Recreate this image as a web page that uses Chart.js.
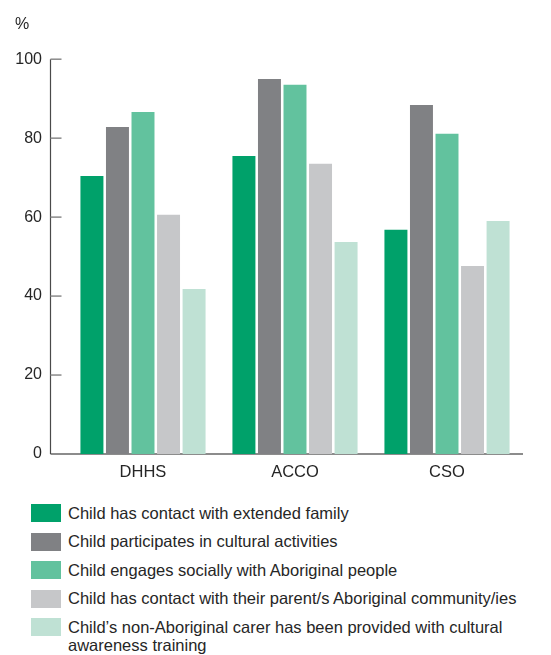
<!DOCTYPE html>
<html><head><meta charset="utf-8">
<script src="https://cdn.jsdelivr.net/npm/chart.js@4"></script>
<style>
html,body{margin:0;padding:0;background:#fff;}
#wrap{position:relative;width:551px;height:655px;font-family:"Liberation Sans",Arial,sans-serif;overflow:hidden;}
#cv{position:absolute;left:0;top:0;}
#legend{position:absolute;left:31px;top:504px;}
.item{display:flex;align-items:flex-start;height:28.6px;}
.box{width:30px;height:18px;flex:none;margin-right:7px;}
.txt{font-size:16.5px;line-height:18.5px;color:#262626;margin-top:-0.5px;white-space:nowrap;}
</style>
</head><body>
<div id="wrap">
<canvas id="cv" width="551" height="490"></canvas>
<div id="legend"></div>
</div>
<script>
const categories = ['DHHS', 'ACCO', 'CSO'];
const extendedFamily = [70.4, 75.5, 56.8];
const culturalActivities = [82.8, 95.0, 88.4];
const engagesSocially = [86.6, 93.5, 81.1];
const parentCommunity = [60.6, 73.5, 47.6];
const carerTraining = [41.8, 53.7, 59.0];
const seriesLabels = [
  ['Child has contact with extended family'],
  ['Child participates in cultural activities'],
  ['Child engages socially with Aboriginal people'],
  ['Child has contact with their parent/s Aboriginal community/ies'],
  ['Child\u2019s non-Aboriginal carer has been provided with cultural', 'awareness training']
];
const seriesColors = ['#00a16a', '#808184', '#62c29e', '#c6c7c9', '#bfe1d4'];
const yTickValues = [0, 20, 40, 60, 80, 100];
const unitLabel = '%';

const seriesValues = [extendedFamily, culturalActivities, engagesSocially, parentCommunity, carerTraining];
const FONT = '"Liberation Sans", Arial, sans-serif';
const TEXT = '#262626';

const axisDeco = {
  id: 'axisDeco',
  beforeDatasetsDraw(chart) {
    const {ctx, chartArea, scales: {y}} = chart;
    const ax = Math.round(chartArea.left - 17) + 0.5;
    const y0 = y.getPixelForValue(0);
    const yTop = y.getPixelForValue(100);
    ctx.save();
    ctx.strokeStyle = '#8c8c8c';
    ctx.lineWidth = 2;
    ctx.beginPath(); ctx.moveTo(ax, y0); ctx.lineTo(chartArea.right, y0); ctx.stroke();
    ctx.strokeStyle = '#4a4a4a';
    ctx.lineWidth = 1.2;
    ctx.beginPath(); ctx.moveTo(ax, yTop); ctx.lineTo(ax, y0); ctx.stroke();
    ctx.strokeStyle = '#8a8a8a';
    ctx.lineWidth = 1.5;
    y.ticks.forEach(t => {
      if (t.value === 0) return;
      const py = y.getPixelForValue(t.value);
      ctx.beginPath(); ctx.moveTo(ax, py); ctx.lineTo(ax + 11, py); ctx.stroke();
    });
    ctx.restore();
  }
};

const chart = new Chart(document.getElementById('cv'), {
  type: 'bar',
  data: {
    labels: categories,
    datasets: seriesValues.map((vals, i) => ({
      label: seriesLabels[i].join(' '),
      data: vals,
      backgroundColor: seriesColors[i],
      borderWidth: 0,
      barPercentage: 0.9,
      categoryPercentage: 0.84
    }))
  },
  options: {
    responsive: false,
    animation: false,
    layout: {padding: {left: 15, right: 28, top: 0, bottom: 8}},
    plugins: {
      legend: {display: false},
      tooltip: {enabled: false},
      title: {
        display: true, text: unitLabel, align: 'start', color: TEXT,
        font: {family: FONT, size: 16, weight: 'normal'},
        padding: {top: 15, bottom: 25}
      }
    },
    scales: {
      x: {
        grid: {display: false, drawTicks: false},
        border: {display: false},
        ticks: {font: {family: FONT, size: 16.5}, color: TEXT, padding: 9},
        afterFit(scale) { scale.height = 28; }
      },
      y: {
        min: 0, max: 100,
        afterBuildTicks(scale) { scale.ticks = yTickValues.map(v => ({value: v})); },
        grid: {display: false, drawTicks: false},
        border: {display: false},
        ticks: {font: {family: FONT, size: 16}, color: TEXT, padding: 25},
        afterFit(scale) { scale.width = 52; }
      }
    }
  },
  plugins: [axisDeco]
});

const legend = document.getElementById('legend');
seriesLabels.forEach((lines, i) => {
  const item = document.createElement('div');
  item.className = 'item';
  const box = document.createElement('div');
  box.className = 'box';
  box.style.background = seriesColors[i];
  const txt = document.createElement('div');
  txt.className = 'txt';
  lines.forEach((l, j) => {
    if (j) txt.appendChild(document.createElement('br'));
    txt.appendChild(document.createTextNode(l));
  });
  item.appendChild(box); item.appendChild(txt);
  legend.appendChild(item);
});
</script>
</body></html>
